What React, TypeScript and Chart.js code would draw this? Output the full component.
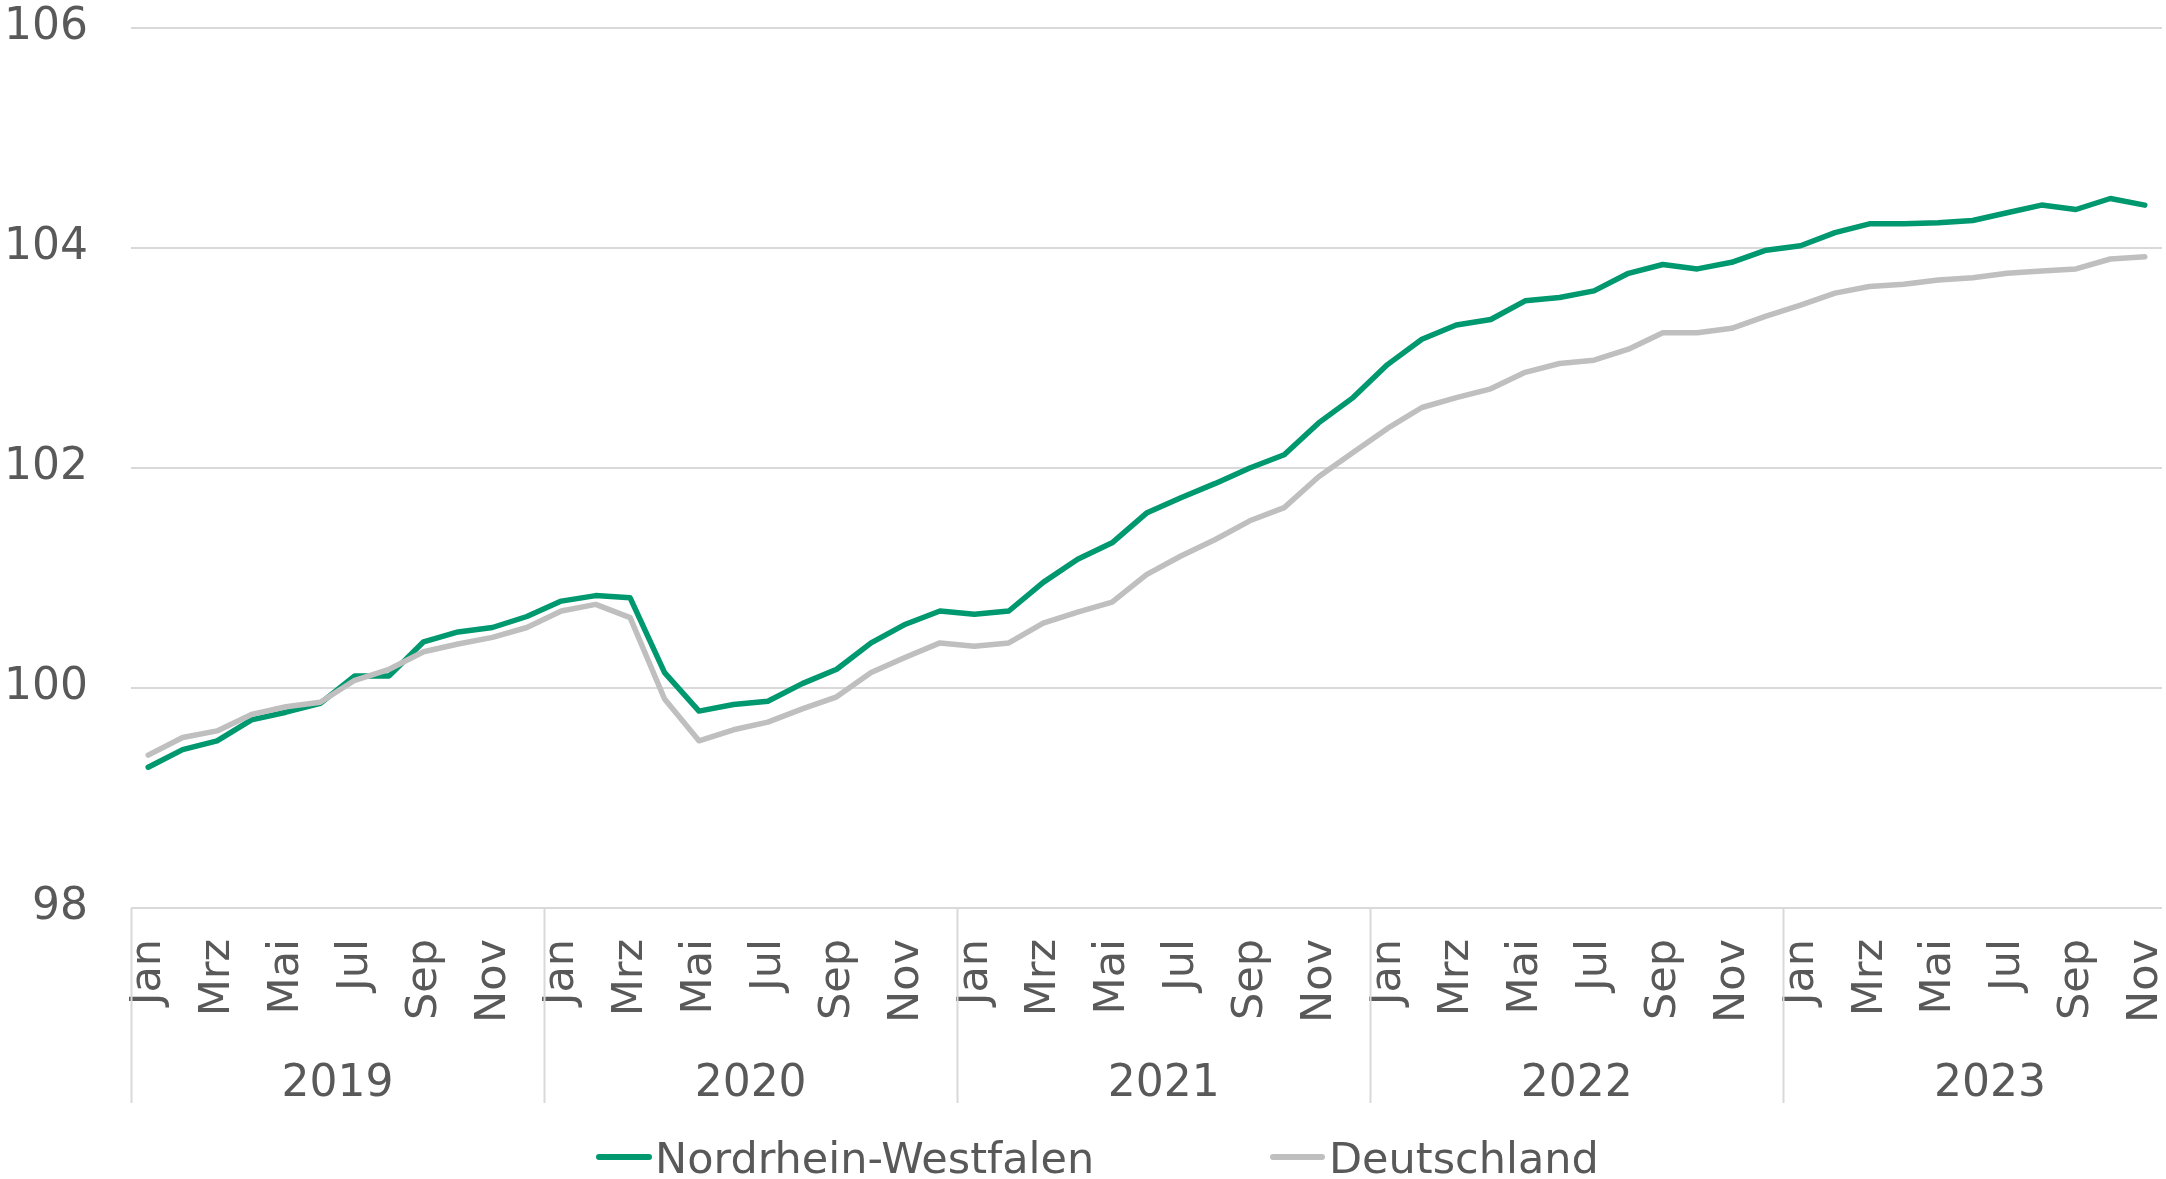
import React, { useEffect, useRef } from "react";
import { Chart, registerables } from "chart.js";

Chart.register(...registerables);

const years = ["2019", "2020", "2021", "2022", "2023"];
const monthNames = ["Jan", "Feb", "Mrz", "Apr", "Mai", "Jun", "Jul", "Aug", "Sep", "Okt", "Nov", "Dez"];

const nrwValues = [
  99.28, 99.44, 99.52, 99.71, 99.78, 99.86, 100.11, 100.11, 100.42, 100.51, 100.55, 100.65,
  100.79, 100.84, 100.82, 100.14, 99.79, 99.85, 99.88, 100.04, 100.17, 100.41, 100.58, 100.70,
  100.67, 100.70, 100.96, 101.17, 101.32, 101.59, 101.73, 101.86, 102.00, 102.12, 102.41, 102.64,
  102.94, 103.17, 103.30, 103.35, 103.52, 103.55, 103.61, 103.77, 103.85, 103.81, 103.87, 103.98,
  104.02, 104.14, 104.22, 104.22, 104.23, 104.25, 104.32, 104.39, 104.35, 104.45, 104.39,
];

const deValues = [
  99.39, 99.55, 99.61, 99.76, 99.83, 99.87, 100.07, 100.17, 100.33, 100.40, 100.46, 100.55,
  100.70, 100.76, 100.64, 99.90, 99.52, 99.62, 99.69, 99.81, 99.92, 100.14, 100.28, 100.41,
  100.38, 100.41, 100.59, 100.69, 100.78, 101.03, 101.20, 101.35, 101.52, 101.64, 101.92, 102.14,
  102.36, 102.55, 102.64, 102.72, 102.87, 102.95, 102.98, 103.08, 103.23, 103.23, 103.27, 103.38,
  103.48, 103.59, 103.65, 103.67, 103.71, 103.73, 103.77, 103.79, 103.81, 103.90, 103.92,
];

const seriesNames = ["Nordrhein-Westfalen", "Deutschland"];
const seriesColors = ["#00986F", "#BFBFBF"];
const yMin = 98;
const yMax = 106;
const yStep = 2;

const categories: { year: string; month: string; monthIndex: number }[] = [];
years.forEach((y) => {
  monthNames.forEach((m, mi) => {
    if (categories.length < nrwValues.length) categories.push({ year: y, month: m, monthIndex: mi });
  });
});
const labels = categories.map((c) => `${c.month} ${c.year}`);

const TEXT = "#595959";
const GRID = "#D9D9D9";
const FONT = "'DejaVu Sans', Verdana, sans-serif";

const axisPlugin = {
  id: "groupedAxis",
  afterDraw(chart: any) {
    const ctx = chart.ctx as CanvasRenderingContext2D;
    const x = chart.scales.x;
    const area = chart.chartArea;
    const step = x.getPixelForValue(1) - x.getPixelForValue(0);
    ctx.save();
    // month labels
    ctx.fillStyle = TEXT;
    ctx.font = `43px ${FONT}`;
    categories.forEach((c, i) => {
      if (c.monthIndex % 2 !== 0) return;
      const px = x.getPixelForValue(i);
      ctx.save();
      ctx.translate(px + 1, 939);
      ctx.rotate(-Math.PI / 2);
      ctx.textAlign = "right";
      ctx.textBaseline = "middle";
      ctx.fillText(c.month, 0, 0);
      ctx.restore();
    });
    // separators and year labels
    ctx.strokeStyle = GRID;
    ctx.lineWidth = 2;
    ctx.font = `44px ${FONT}`;
    ctx.textAlign = "center";
    ctx.textBaseline = "alphabetic";
    years.forEach((y) => {
      const first = categories.findIndex((c) => c.year === y);
      if (first < 0) return;
      const left = x.getPixelForValue(first) - step / 2;
      ctx.beginPath();
      ctx.moveTo(Math.round(left) + 0.5, area.bottom);
      ctx.lineTo(Math.round(left) + 0.5, 1103);
      ctx.stroke();
      const center = x.getPixelForValue(first) + 5.5 * step;
      ctx.fillText(y, center, 1096);
    });
    // legend
    const legendItems = [
      { name: seriesNames[0], color: seriesColors[0], x0: 599, x1: 649, tx: 655 },
      { name: seriesNames[1], color: seriesColors[1], x0: 1273, x1: 1322, tx: 1329 },
    ];
    ctx.textAlign = "left";
    ctx.font = `43px ${FONT}`;
    legendItems.forEach((it) => {
      ctx.strokeStyle = it.color;
      ctx.lineWidth = 6;
      ctx.lineCap = "round";
      ctx.beginPath();
      ctx.moveTo(it.x0, 1157);
      ctx.lineTo(it.x1, 1157);
      ctx.stroke();
      ctx.fillStyle = TEXT;
      ctx.fillText(it.name, it.tx, 1173);
    });
    ctx.restore();
  },
};

export default function App() {
  const ref = useRef<HTMLCanvasElement | null>(null);
  useEffect(() => {
    if (!ref.current) return;
    const chart = new Chart(ref.current, {
      type: "line",
      data: {
        labels,
        datasets: [
          {
            label: seriesNames[0],
            data: nrwValues,
            borderColor: seriesColors[0],
            backgroundColor: seriesColors[0],
            borderWidth: 5.5,
            pointRadius: 0,
            tension: 0,
            borderCapStyle: "round",
            borderJoinStyle: "round",
            order: 1,
          },
          {
            label: seriesNames[1],
            data: deValues,
            borderColor: seriesColors[1],
            backgroundColor: seriesColors[1],
            borderWidth: 5.5,
            pointRadius: 0,
            tension: 0,
            borderCapStyle: "round",
            borderJoinStyle: "round",
            order: 0,
          },
        ],
      },
      options: {
        animation: false,
        responsive: false,
        maintainAspectRatio: false,
        layout: { autoPadding: false, padding: { left: 0, right: 4, top: 28, bottom: 271 } },
        plugins: { legend: { display: false }, title: { display: false }, tooltip: { enabled: false } },
        scales: {
          x: {
            type: "category",
            offset: true,
            display: false,
          },
          y: {
            min: yMin,
            max: yMax,
            ticks: {
              stepSize: yStep,
              color: TEXT,
              font: { family: FONT, size: 44 },
              padding: 43,
            },
            grid: { color: GRID, lineWidth: 2, drawTicks: false },
            border: { display: false },
            afterFit: (scale: any) => {
              scale.width = 131;
              scale.paddingTop = 0;
              scale.paddingBottom = 0;
            },
          },
        },
      },
      plugins: [axisPlugin],
    });
    return () => chart.destroy();
  }, []);
  return (
    <div style={{ position: "absolute", left: 0, top: 0, width: 2166, height: 1179, background: "#fff" }}>
      <canvas ref={ref} width={2166} height={1179} style={{ width: 2166, height: 1179 }} />
    </div>
  );
}
